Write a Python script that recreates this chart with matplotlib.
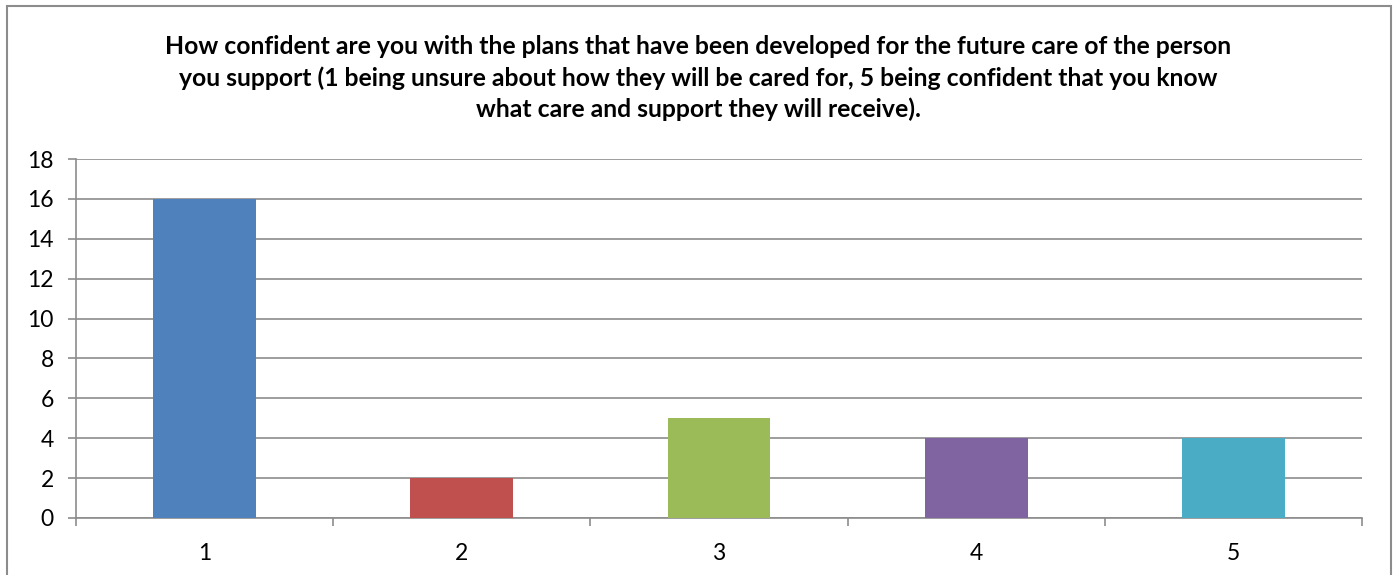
import matplotlib.pyplot as plt
from matplotlib.patches import Rectangle

categories = ["1", "2", "3", "4", "5"]
counts = [16, 2, 5, 4, 4]
colors = ["#4F81BD", "#C0504D", "#9BBB59", "#8064A2", "#4BACC6"]
yticks = list(range(0, 19, 2))

title = ("How confident are you with the plans that have been developed for the future care of the person\n"
         "you support (1 being unsure about how they will be cared for, 5 being confident that you know\n"
         "what care and support they will receive).")

plt.rcParams['font.family'] = ['Lato', 'DejaVu Sans']

fig = plt.figure(figsize=(13.97, 5.75), dpi=100)
ax = fig.add_axes([76 / 1397, 57 / 575, 1286 / 1397, 359 / 575])

x = list(range(len(categories)))
ax.bar(x, counts, width=0.4, color=colors, zorder=3)

ax.set_xlim(-0.5, len(categories) - 0.5)
ax.set_ylim(0, 18)
ax.set_yticks(yticks)
ax.set_xticks(x)
ax.set_xticklabels(categories)
ax.set_xticks([i - 0.5 for i in range(len(categories) + 1)], minor=True)
ax.grid(axis="y", color="#8C8C8C", linewidth=1.2, zorder=0)

for side in ["top", "right"]:
    ax.spines[side].set_visible(False)
for side in ["left", "bottom"]:
    ax.spines[side].set_color("#8C8C8C")
    ax.spines[side].set_linewidth(1.2)

ax.tick_params(axis="y", length=6, width=1.2, color="#8C8C8C", labelsize=16.5, pad=10)
ax.tick_params(axis="x", which="major", length=0, labelsize=16.5, pad=18)
ax.tick_params(axis="x", which="minor", length=6, width=1.2, color="#8C8C8C")

fig.text(0.5, 1 - 78 / 575, title, ha="center", va="center", fontsize=17.8, fontweight="bold",
         linespacing=1.38)

# chart border
fig.patches.append(Rectangle((7 / 1397, -0.05), 1384 / 1397, 1.04, transform=fig.transFigure,
                             fill=False, edgecolor="#8C8C8C", linewidth=1.5))

fig.savefig("out.png", dpi=100)
